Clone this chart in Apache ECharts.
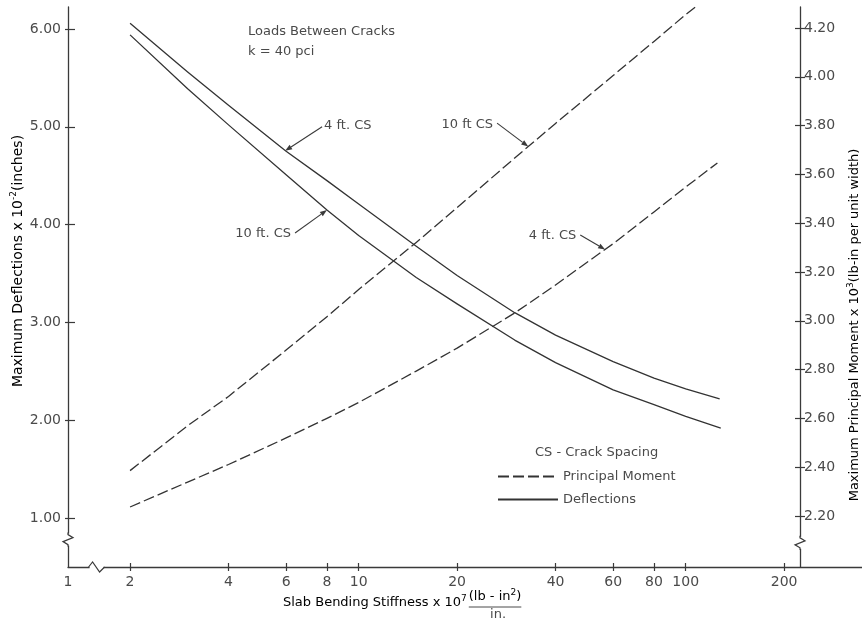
<!DOCTYPE html>
<html>
<head>
<meta charset="utf-8">
<script src="https://cdn.jsdelivr.net/npm/echarts@6.0.0/dist/echarts.min.js"></script>
<style>
html,body{margin:0;padding:0;background:#ffffff;}
#chart{width:862px;height:622px;}
</style>
</head>
<body>
<div id="chart"></div>
<script>
// ---------- data ----------
const defl4ftX  = [2, 3, 4, 6, 8, 10, 15, 20, 30, 40, 60, 80, 100, 127];
const defl4ftY  = [6.06, 5.56, 5.22, 4.75, 4.45, 4.21, 3.78, 3.48, 3.10, 2.87, 2.60, 2.43, 2.32, 2.22];
const defl10ftX = [2, 3, 4, 6, 8, 10, 15, 20, 30, 40, 60, 80, 100, 128];
const defl10ftY = [5.94, 5.39, 5.02, 4.51, 4.15, 3.89, 3.46, 3.19, 2.82, 2.59, 2.31, 2.16, 2.04, 1.92];
const mom10ftX  = [2, 3, 4, 6, 8, 10, 15, 20, 30, 40, 60, 80, 100, 107];
const mom10ftY  = [2.386, 2.57, 2.69, 2.88, 3.017, 3.128, 3.321, 3.464, 3.667, 3.809, 4.005, 4.145, 4.255, 4.286];
const mom4ftX   = [2, 3, 4, 6, 8, 10, 15, 20, 30, 40, 60, 80, 100, 125];
const mom4ftY   = [2.237, 2.339, 2.411, 2.52, 2.60, 2.665, 2.794, 2.888, 3.032, 3.147, 3.316, 3.446, 3.548, 3.647];

const xTickValues     = [2, 4, 6, 8, 10, 20, 40, 60, 80, 100, 200];
const xFirstLabel     = '1';
const leftTickValues  = [1, 2, 3, 4, 5, 6];
const rightTickValues = [2.2, 2.4, 2.6, 2.8, 3.0, 3.2, 3.4, 3.6, 3.8, 4.0, 4.2];

const seriesNames = ['Principal Moment', 'Deflections'];
const legendTitle = 'CS - Crack Spacing';
const noteLines   = ['Loads Between Cracks', 'k = 40 pci'];

// annotations: [label, axis (0 left / 1 right), tail [x,y], tip [x,y], text side]
const annotations = [
  ['4 ft. CS',  0, [7.73, 5.00], [5.96, 4.755], 'right'],
  ['10 ft. CS', 0, [6.39, 3.914], [8.0, 4.15], 'left'],
  ['10 ft CS',  1, [26.5, 3.81], [33.0, 3.714], 'left'],
  ['4 ft. CS',  1, [47.6, 3.352], [56.7, 3.292], 'left']
];

// ---------- styling / layout ----------
const FONT = 'DejaVu Sans';
const TEXT = '#4a4a4a';
const AXIS = '#3a3a3a';
const CURVE = '#333333';

const xMin = 1.292, xMax = 346;
const leftMin = 0.5, leftMax = 6.225;
const rightMin = 1.991, rightMax = 4.286;
const rightAxisOffset = -62;

const zip = (xs, ys) => xs.map((x, i) => [x, ys[i]]);

function xAxisCfg(inner) {
  return {
    type: 'log', logBase: 10, min: xMin, max: xMax, position: 'bottom',
    axisLine: { show: !inner, lineStyle: { color: AXIS, width: 1.3 } },
    axisTick: { show: true, inside: inner, length: 4, customValues: xTickValues, lineStyle: { color: AXIS, width: 1.2 } },
    axisLabel: {
      show: !inner, customValues: [xMin].concat(xTickValues),
      formatter: v => (v < 1.5 ? xFirstLabel : String(Math.round(v))),
      color: TEXT, fontFamily: FONT, fontSize: 14, margin: 8
    },
    splitLine: { show: false }, minorTick: { show: false }, minorSplitLine: { show: false }
  };
}
function yAxisCfg(side, inner) {
  const left = side === 'left';
  const ticks = left ? leftTickValues : rightTickValues;
  return {
    type: 'value', position: side,
    min: left ? leftMin : rightMin, max: left ? leftMax : rightMax,
    offset: left ? 0 : rightAxisOffset,
    axisLine: { show: !inner, lineStyle: { color: AXIS, width: 1.3 } },
    axisTick: { show: true, inside: inner, length: left ? (inner ? 7 : 3) : 5, customValues: ticks, lineStyle: { color: AXIS, width: 1.2 } },
    axisLabel: {
      show: !inner, customValues: ticks, formatter: v => v.toFixed(2),
      color: TEXT, fontFamily: FONT, fontSize: 14, margin: left ? 7 : 4
    },
    splitLine: { show: false }
  };
}

function lineSeries(name, xs, ys, yIdx, dashed) {
  return {
    name: name, type: 'line', xAxisIndex: 0, yAxisIndex: yIdx,
    data: zip(xs, ys), smooth: false, symbol: 'none', showSymbol: false,
    lineStyle: { color: CURVE, width: 1.3, type: dashed ? [11, 4] : 'solid', join: 'round' },
    itemStyle: { color: CURVE }, silent: true, z: 3
  };
}

const chart = echarts.init(document.getElementById('chart'));
chart.setOption({
  animation: false,
  backgroundColor: '#ffffff',
  grid: { left: 68, right: 0, top: 7, bottom: 55, containLabel: false },
  xAxis: [xAxisCfg(false), xAxisCfg(true)],
  yAxis: [yAxisCfg('left', false), yAxisCfg('right', false), yAxisCfg('left', true), yAxisCfg('right', true)],
  legend: {
    data: seriesNames, orient: 'vertical', left: 497, top: 470, padding: 0,
    itemWidth: 60, itemHeight: 14, itemGap: 10, selectedMode: false,
    itemStyle: { opacity: 0, borderWidth: 0 },
    textStyle: { color: TEXT, fontFamily: FONT, fontSize: 13 }
  },
  series: [
    lineSeries(seriesNames[1], defl4ftX, defl4ftY, 0, false),
    lineSeries(seriesNames[1], defl10ftX, defl10ftY, 0, false),
    lineSeries(seriesNames[0], mom10ftX, mom10ftY, 1, true),
    lineSeries(seriesNames[0], mom4ftX, mom4ftY, 1, true)
  ]
});

// ---------- decorations (axis titles, notes, arrows, axis breaks) ----------
const ctx = document.createElement('canvas').getContext('2d');
function tw(t, size) { ctx.font = size + 'px "' + FONT + '"'; return ctx.measureText(t).width; }
function richSet(size) {
  return {
    t: { fontFamily: FONT, fontSize: size, color: TEXT, lineHeight: 18 },
    s: { fontFamily: FONT, fontSize: 9, color: TEXT, lineHeight: 18, verticalAlign: 'top' }
  };
}
const rich = richSet(13);
const g = [];
function text(x, y, str, align, extra) {
  g.push(Object.assign({ type: 'text', x: x, y: y, z: 10, silent: true,
    style: { text: str, fill: TEXT, font: '13px "' + FONT + '"', align: align || 'left', verticalAlign: 'middle' } }, extra || {}));
}
// y-axis titles
g.push({ type: 'text', x: 18, y: 261, rotation: Math.PI / 2, z: 10, silent: true,
  style: { text: '{t|Maximum Deflections x 10}{s|-2}{t|(inches)}', rich: richSet(14), align: 'center', verticalAlign: 'middle' } });
g.push({ type: 'text', x: 855, y: 325, rotation: Math.PI / 2, z: 10, silent: true,
  style: { text: '{t|Maximum Principal Moment x 10}{s|3}{t|(lb-in per unit width)}', rich: rich, align: 'center', verticalAlign: 'middle' } });
// x-axis title with fraction
const xt0 = 283, xty = 603;
g.push({ type: 'text', x: xt0, y: xty, z: 10, silent: true,
  style: { text: '{t|Slab Bending Stiffness x 10}{s|7}', rich: rich, align: 'left', verticalAlign: 'middle' } });
const fracL = xt0 + tw('Slab Bending Stiffness x 10', 13) + tw('7', 9) + 2;
const numW = tw('(lb - in', 13) + tw('2', 9) + tw(')', 13);
g.push({ type: 'text', x: fracL, y: 597, z: 10, silent: true,
  style: { text: '{t|(lb - in}{s|2}{t|)}', rich: rich, align: 'left', verticalAlign: 'middle' } });
g.push({ type: 'line', z: 10, silent: true, shape: { x1: fracL, y1: 607, x2: fracL + numW, y2: 607 }, style: { stroke: TEXT, lineWidth: 1 } });
text(fracL + numW / 2 + 3, 615, 'in.', 'center');
// notes and legend title
text(248, 32, noteLines[0]);
text(248, 52, noteLines[1]);
text(535, 453, legendTitle);

// arrows
function addArrow(label, yIdx, tailD, tipD, side) {
  const tail = chart.convertToPixel({ xAxisIndex: 0, yAxisIndex: yIdx }, tailD);
  const tip = chart.convertToPixel({ xAxisIndex: 0, yAxisIndex: yIdx }, tipD);
  const dx = tip[0] - tail[0], dy = tip[1] - tail[1];
  const len = Math.hypot(dx, dy), ux = dx / len, uy = dy / len;
  const hl = 7, hw = 2.6;
  const bx = tip[0] - ux * hl, by = tip[1] - uy * hl;
  g.push({ type: 'line', z: 10, silent: true, shape: { x1: tail[0], y1: tail[1], x2: bx, y2: by }, style: { stroke: AXIS, lineWidth: 1.1 } });
  g.push({ type: 'polygon', z: 10, silent: true, shape: { points: [[tip[0], tip[1]], [bx - uy * hw, by + ux * hw], [bx + uy * hw, by - ux * hw]] }, style: { fill: AXIS } });
  if (side === 'right') text(tail[0] + 2, tail[1] - 1, label, 'left');
  else text(tail[0] - 4, tail[1] + 1, label, 'right');
}
annotations.forEach(a => addArrow(a[0], a[1], a[2], a[3], a[4]));

// axis breaks
const x0 = chart.convertToPixel({ xAxisIndex: 0 }, xMin);
const xR = chart.getWidth() + rightAxisOffset;
const yBase = chart.convertToPixel({ yAxisIndex: 0 }, leftMin);
const yBreakL = chart.convertToPixel({ yAxisIndex: 0 }, 0.78);
const yBreakR = chart.convertToPixel({ yAxisIndex: 1 }, 2.09);
const xBreak = chart.convertToPixel({ xAxisIndex: 0 }, 1.58);
function vBreak(x, y) {
  g.push({ type: 'rect', z: 11, silent: true, shape: { x: x - 2, y: y - 6, width: 4, height: 12 }, style: { fill: '#fff' } });
  g.push({ type: 'polyline', z: 12, silent: true, shape: { points: [[x, y - 7], [x, y - 5], [x + 5, y - 2], [x - 5, y + 2], [x, y + 5], [x, y + 7]] }, style: { stroke: AXIS, lineWidth: 1.2, fill: null } });
}
function hBreak(x, y) {
  g.push({ type: 'rect', z: 11, silent: true, shape: { x: x - 7, y: y - 2, width: 14, height: 4 }, style: { fill: '#fff' } });
  g.push({ type: 'polyline', z: 12, silent: true, shape: { points: [[x - 8, y], [x - 4, y - 5], [x + 3, y + 5], [x + 8, y]] }, style: { stroke: AXIS, lineWidth: 1.2, fill: null } });
}
vBreak(x0, yBreakL);
vBreak(xR, yBreakR);
hBreak(xBreak, yBase);

chart.setOption({ graphic: g });
</script>
</body>
</html>
